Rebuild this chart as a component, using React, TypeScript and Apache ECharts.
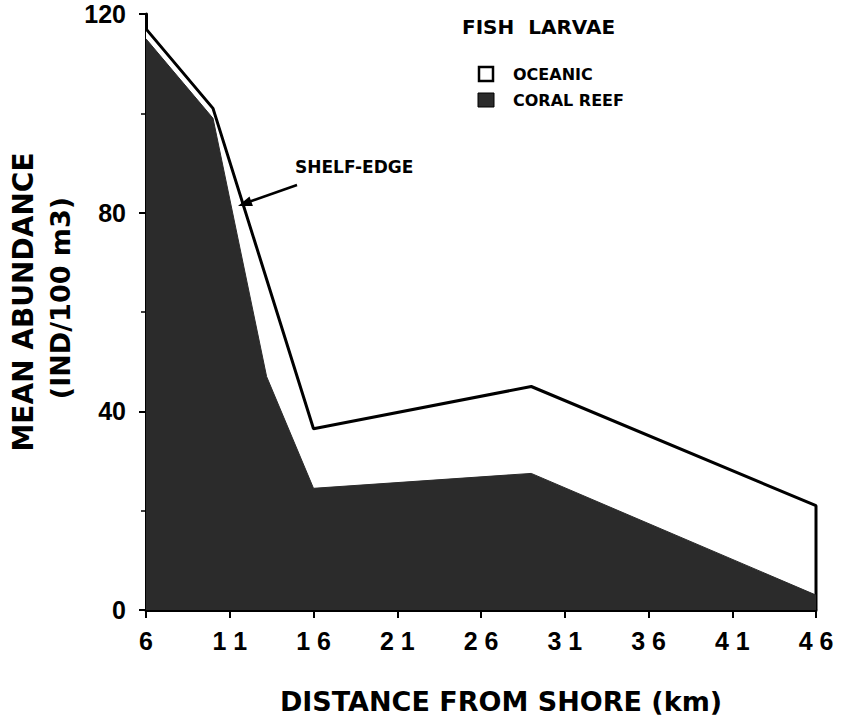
import React, { useEffect, useRef } from "react";
import * as echarts from "echarts";

const oceanicX = [6, 10, 16, 29, 46, 46];
const oceanicY = [117, 101, 36.5, 45, 21, 0];
const coralX = [6, 10, 13.2, 16, 29, 46];
const coralY = [115, 99, 47, 24.5, 27.5, 3];
const xTicks = { min: 6, max: 46, interval: 5 };
const yTicks = { min: 0, max: 120, interval: 40 };

const NUM_FONT = "'Liberation Sans', Arial, sans-serif";
const TXT_FONT = "'DejaVu Sans', sans-serif";

export default function App() {
  const ref = useRef<HTMLDivElement>(null);
  useEffect(() => {
    if (!ref.current) return;
    const chart = echarts.init(ref.current, undefined, { renderer: "svg" });
    const oceanic = oceanicX.map((x, i) => [x, oceanicY[i]]);
    const coral = coralX.map((x, i) => [x, coralY[i]]);
    chart.setOption({
      animation: false,
      backgroundColor: "#ffffff",
      grid: { left: 146, right: 25, top: 14, bottom: 114, containLabel: false },
      xAxis: {
        type: "value",
        min: xTicks.min,
        max: xTicks.max,
        interval: xTicks.interval,
        splitLine: { show: false },
        axisLine: { show: true, onZero: false, lineStyle: { color: "#000", width: 3 } },
        axisTick: { show: true, length: 8, lineStyle: { color: "#000", width: 2 } },
        axisLabel: {
          margin: 18,
          color: "#000",
          fontFamily: NUM_FONT,
          fontWeight: "bold",
          fontSize: 25,
          formatter: (v: number) => String(v).split("").join(" "),
        },
      },
      yAxis: {
        type: "value",
        min: yTicks.min,
        max: yTicks.max,
        interval: yTicks.interval,
        splitLine: { show: false },
        axisLine: { show: true, onZero: false, lineStyle: { color: "#000", width: 3 } },
        axisTick: { show: true, length: 7, lineStyle: { color: "#000", width: 2 } },
        minorTick: { show: true, splitNumber: 2, length: 5, lineStyle: { color: "#000", width: 1.5 } },
        axisLabel: {
          margin: 20,
          color: "#000",
          fontFamily: NUM_FONT,
          fontWeight: "bold",
          fontSize: 25,
        },
      },
      series: [
        {
          name: "OCEANIC",
          type: "line",
          data: oceanic,
          showSymbol: false,
          symbol: "none",
          lineStyle: { color: "#000", width: 3 },
          areaStyle: { color: "#ffffff", opacity: 1 },
          z: 2,
        },
        {
          name: "CORAL REEF",
          type: "line",
          data: coral,
          showSymbol: false,
          symbol: "none",
          lineStyle: { color: "#2b2b2b", width: 1 },
          areaStyle: { color: "#2b2b2b", opacity: 1 },
          z: 3,
        },
      ],
      graphic: [
        {
          type: "text",
          x: 23,
          y: 302,
          rotation: Math.PI / 2,
          style: {
            text: "MEAN ABUNDANCE",
            font: `bold 28px ${TXT_FONT}`,
            fill: "#000",
            textAlign: "center",
            textVerticalAlign: "middle",
          },
        },
        {
          type: "text",
          x: 60,
          y: 298,
          rotation: Math.PI / 2,
          style: {
            text: "(IND/100 m3)",
            font: `bold 27px ${TXT_FONT}`,
            fill: "#000",
            textAlign: "center",
            textVerticalAlign: "middle",
          },
        },
        {
          type: "text",
          x: 501,
          y: 701,
          style: {
            text: "DISTANCE FROM SHORE (km)",
            font: `bold 27px ${TXT_FONT}`,
            fill: "#000",
            textAlign: "center",
            textVerticalAlign: "middle",
          },
        },
        {
          type: "text",
          x: 462,
          y: 27,
          style: {
            text: "FISH  LARVAE",
            font: `bold 20px ${TXT_FONT}`,
            fill: "#000",
            textAlign: "left",
            textVerticalAlign: "middle",
          },
        },
        {
          type: "rect",
          shape: { x: 479, y: 67, width: 14, height: 14 },
          style: { fill: "#fff", stroke: "#000", lineWidth: 2.5 },
        },
        {
          type: "text",
          x: 513,
          y: 74,
          style: {
            text: "OCEANIC",
            font: `bold 16px ${TXT_FONT}`,
            fill: "#000",
            textAlign: "left",
            textVerticalAlign: "middle",
          },
        },
        {
          type: "rect",
          shape: { x: 478, y: 93, width: 16, height: 14 },
          style: { fill: "#2b2b2b", stroke: "#000", lineWidth: 1 },
        },
        {
          type: "text",
          x: 513,
          y: 100,
          style: {
            text: "CORAL REEF",
            font: `bold 16px ${TXT_FONT}`,
            fill: "#000",
            textAlign: "left",
            textVerticalAlign: "middle",
          },
        },
        {
          type: "text",
          x: 295,
          y: 167,
          style: {
            text: "SHELF-EDGE",
            font: `bold 17px ${TXT_FONT}`,
            fill: "#000",
            textAlign: "left",
            textVerticalAlign: "middle",
          },
        },
        {
          type: "line",
          shape: { x1: 297, y1: 185, x2: 250, y2: 201.5 },
          style: { stroke: "#000", lineWidth: 2.5 },
          z: 10,
        },
        {
          type: "polygon",
          shape: { points: [[238, 206], [252.9, 206.0], [249.5, 196.6]] },
          style: { fill: "#000" },
          z: 10,
        },
      ],
    });
    return () => chart.dispose();
  }, []);
  return (
    <div
      ref={ref}
      style={{ position: "absolute", left: 0, top: 0, width: 841, height: 724 }}
    />
  );
}
